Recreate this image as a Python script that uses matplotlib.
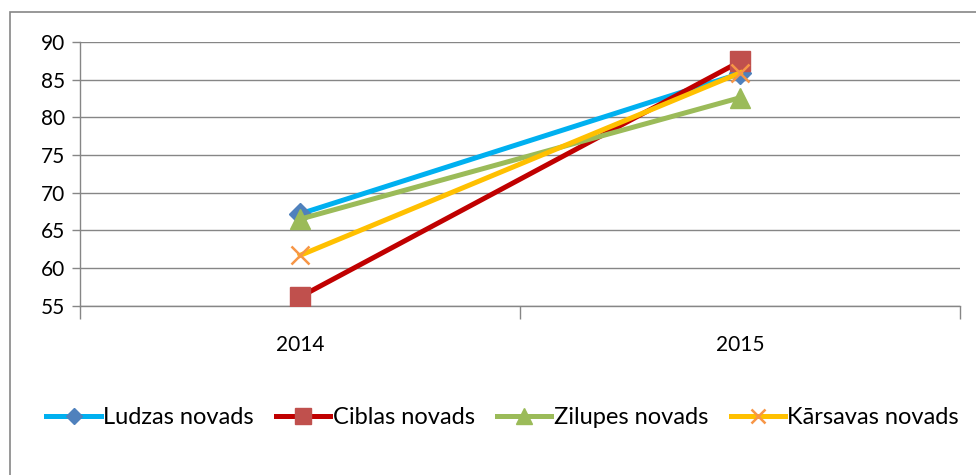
import matplotlib.pyplot as plt
from matplotlib.patches import Rectangle

plt.rcParams['font.family'] = ['Lato', 'DejaVu Sans']

years = ['2014', '2015']
ludzas = [67.2, 85.8]
ciblas = [56.2, 87.4]
zilupes = [66.5, 82.6]
karsavas = [61.7, 85.9]

series = [
    ('Ludzas novads', ludzas, '#00B0F0', '#4F81BD', 'D', 11),
    ('Ciblas novads', ciblas, '#C00000', '#C0504D', 's', 15),
    ('Zilupes novads', zilupes, '#9BBB59', '#9BBB59', '^', 15),
    ('Kārsavas novads', karsavas, '#FFC000', '#F79646', 'x', 13),
]

fig = plt.figure(figsize=(9.76, 4.75), dpi=100)
ax = fig.add_axes([0.082, 0.356, 0.902, 0.556])

# outer chart frame
fig.patches.append(Rectangle((10 / 976, -0.01), 1.0, 1 - 12 / 475 + 0.01,
                             transform=fig.transFigure, fill=False,
                             edgecolor='#868686', linewidth=1.2))

x = list(range(len(years)))
for name, vals, lc, mc, mk, ms in series:
    if mk == 'x':
        ax.plot(x, vals, color=lc, linewidth=3.6, marker=mk, markersize=ms,
                markeredgecolor=mc, markeredgewidth=1.8, label=name, zorder=3)
    else:
        ax.plot(x, vals, color=lc, linewidth=3.6, marker=mk, markersize=ms,
                markerfacecolor=mc, markeredgecolor=mc, label=name, zorder=3)

ax.set_xlim(-0.5, 1.5)
ax.set_ylim(55, 90)
ax.set_yticks(range(55, 91, 5))
ax.set_xticks(x)
ax.set_xticklabels(years)
ax.set_xticks([-0.5, 0.5, 1.5], minor=True)
ax.tick_params(axis='x', which='major', length=0, pad=21, labelsize=15)
ax.tick_params(axis='x', which='minor', length=9, color='#868686', width=1)
ax.tick_params(axis='y', length=6, color='#868686', width=1, labelsize=15, pad=5)
ax.grid(axis='y', color='#868686', linewidth=1)
ax.set_axisbelow(True)
for s in ['top', 'right']:
    ax.spines[s].set_visible(False)
for s in ['left', 'bottom']:
    ax.spines[s].set_color('#868686')
    ax.spines[s].set_linewidth(1)

fig.legend(loc='center', bbox_to_anchor=(0.515, 1 - 418 / 475), ncol=4,
           frameon=False, fontsize=17, handlelength=2.3, handletextpad=0.1,
           columnspacing=0.95, markerscale=0.75)

fig.savefig('out.png', dpi=100)
